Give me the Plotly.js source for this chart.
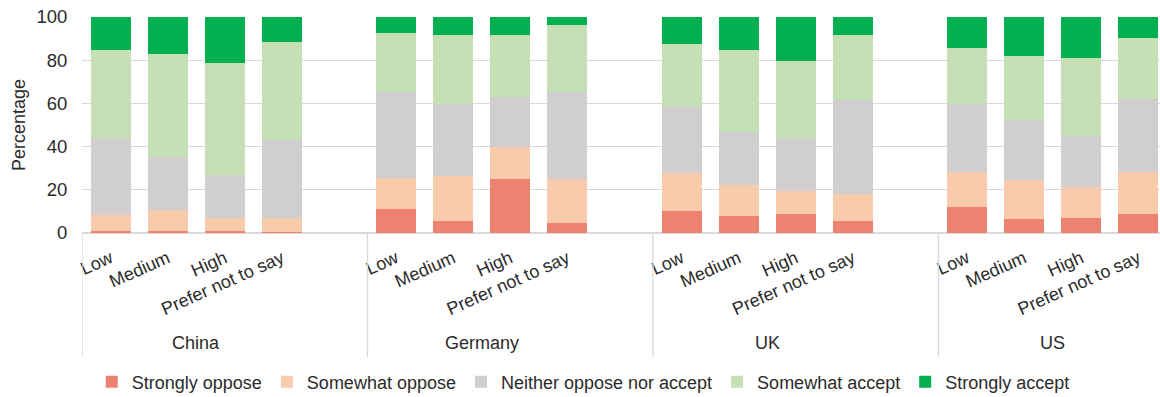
<!DOCTYPE html>
<html>
<head>
<meta charset="utf-8">
<script src="https://cdn.plot.ly/plotly-3.0.1.min.js"></script>
<style>
  html, body { margin: 0; padding: 0; background: #ffffff; overflow: hidden; }
  #chart { width: 1160px; height: 397px; }
</style>
</head>
<body>
<div id="chart"></div>
<script>
// Countries (outer groups) and income levels (bars within each group)
const countries = ['China', 'Germany', 'UK', 'US'];
const levels = ['Low', 'Medium', 'High', 'Prefer not to say'];

// Share of respondents (%) per answer, ordered country by country, level by level
const stronglyOppose = [
  0.8, 1.0, 0.8, 0.5,
  11.1, 5.7, 25.1, 4.6,
  10.0, 7.7, 8.8, 5.4,
  12.0, 6.5, 6.9, 8.8
];
const somewhatOppose = [
  7.6, 9.8, 6.1, 6.4,
  14.3, 20.9, 14.9, 20.3,
  18.0, 14.3, 10.7, 12.7,
  16.4, 18.1, 14.3, 19.6
];
const neither = [
  35.7, 24.6, 20.0, 36.2,
  39.7, 32.9, 22.8, 40.2,
  30.4, 24.9, 24.3, 43.4,
  31.1, 27.7, 23.7, 33.6
];
const somewhatAccept = [
  40.8, 47.7, 52.0, 45.3,
  27.5, 32.2, 28.9, 31.2,
  29.3, 38.0, 35.9, 30.2,
  26.2, 29.7, 36.1, 28.3
];
const stronglyAccept = [
  15.1, 16.9, 21.1, 11.6,
  7.4, 8.3, 8.3, 3.7,
  12.3, 15.1, 20.3, 8.3,
  14.3, 18.0, 19.0, 9.7
];

const seriesNames = ['Strongly oppose', 'Somewhat oppose', 'Neither oppose nor accept', 'Somewhat accept', 'Strongly accept'];
const seriesColors = ['#EE8271', '#F8CBAD', '#D0CECE', '#C5E0B4', '#00B050'];
const seriesValues = [stronglyOppose, somewhatOppose, neither, somewhatAccept, stronglyAccept];

// Each country takes five slots on the axis: four bars and one empty gap
const slotsPerGroup = 5;
const xPos = [];
const tickText = [];
countries.forEach((c, g) => {
  levels.forEach((lv, i) => {
    xPos.push(g * slotsPerGroup + i);
    tickText.push(lv);
  });
});

const FONT = 'Liberation Sans, Arial, Helvetica, sans-serif';
const TEXT = '#2b2b2b';
const GRID = '#D9D9D9';

const traces = seriesNames.map((name, k) => ({
  type: 'bar',
  name: name,
  x: xPos,
  y: seriesValues[k],
  marker: { color: seriesColors[k], line: { width: 0 } },
  hoverinfo: 'skip'
}));

// Vertical separators between country groups, running down through the label area
const shapes = countries.map((c, g) => ({
  type: 'line',
  xref: 'x', yref: 'paper',
  x0: g * slotsPerGroup - 0.5, x1: g * slotsPerGroup - 0.5,
  y0: 0, y1: -0.574,
  line: { color: GRID, width: 1.3 }
}));

// Country names centred under their bars
const annotations = countries.map((c, g) => ({
  xref: 'x', yref: 'paper',
  x: g * slotsPerGroup + 1.5, y: -0.509,
  xanchor: 'center', yanchor: 'middle',
  text: c, showarrow: false,
  font: { family: FONT, size: 18, color: TEXT }
}));

const layout = {
  width: 1160, height: 397,
  margin: { l: 82, r: 0, t: 17, b: 164, autoexpand: false },
  paper_bgcolor: '#ffffff', plot_bgcolor: '#ffffff',
  barmode: 'stack',
  bargap: 0.3,
  font: { family: FONT, size: 18, color: TEXT },
  xaxis: {
    range: [-0.5, 18.38],
    tickvals: xPos,
    ticktext: tickText,
    tickangle: -24,
    tickfont: { family: FONT, size: 18, color: TEXT },
    showgrid: false, zeroline: false, showline: false,
    ticks: 'outside', ticklen: 7, tickcolor: 'rgba(0,0,0,0)',
    fixedrange: true
  },
  yaxis: {
    range: [0, 100],
    tick0: 0, dtick: 20,
    tickfont: { family: FONT, size: 18.5, color: TEXT },
    showgrid: true, gridcolor: GRID, gridwidth: 1.3,
    zeroline: true, zerolinecolor: GRID, zerolinewidth: 1.3,
    showline: false,
    ticks: 'outside', ticklen: 10, tickcolor: 'rgba(0,0,0,0)',
    title: { text: 'Percentage', font: { family: FONT, size: 18, color: TEXT }, standoff: 6 },
    fixedrange: true
  },
  showlegend: true,
  legend: {
    orientation: 'h',
    x: 0.465, xanchor: 'center',
    y: -0.69, yanchor: 'middle',
    font: { family: FONT, size: 18, color: TEXT },
    traceorder: 'normal',
    bgcolor: 'rgba(0,0,0,0)'
  },
  shapes: shapes,
  annotations: annotations
};

Plotly.newPlot('chart', traces, layout, { displayModeBar: false, staticPlot: true });
</script>
</body>
</html>
